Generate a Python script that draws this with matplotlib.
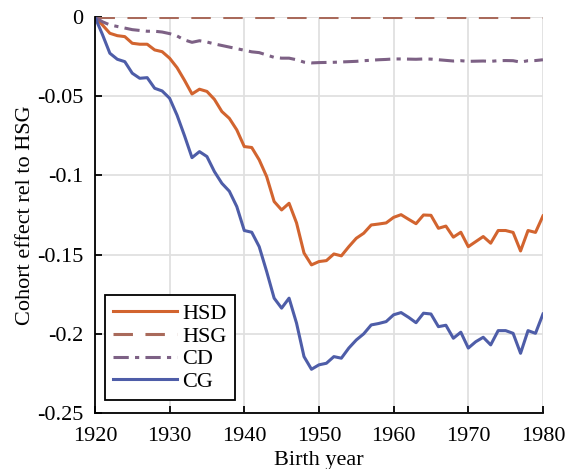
import numpy as np
import matplotlib
matplotlib.use('Agg')
import matplotlib.pyplot as plt

# Dati: effetti di coorte rispetto a HSG
years = np.arange(1920, 1981)

hsd = [0, -0.005, -0.0103, -0.0118, -0.0124, -0.0166, -0.0172, -0.0172, -0.0208, -0.0219,
       -0.026, -0.032, -0.040, -0.0486, -0.0456, -0.047, -0.052, -0.0597, -0.064, -0.0713,
       -0.0818, -0.0824, -0.0902, -0.1008, -0.1165, -0.1218, -0.1176, -0.130, -0.149, -0.1565,
       -0.1544, -0.1538, -0.1496, -0.1508, -0.145, -0.1397, -0.1365, -0.1313, -0.1307, -0.130,
       -0.1265, -0.1248, -0.1277, -0.1305, -0.125, -0.1252, -0.1334, -0.132, -0.139, -0.1359,
       -0.145, -0.1418, -0.1386, -0.1428, -0.1348, -0.1348, -0.136, -0.1477, -0.1348, -0.136,
       -0.1256]

hsg = [0.0] * len(years)

cd = [0, -0.003, -0.005, -0.006, -0.007, -0.008, -0.0085, -0.009, -0.009, -0.0095,
      -0.0105, -0.012, -0.0145, -0.016, -0.015, -0.0158, -0.017, -0.018, -0.019, -0.020,
      -0.021, -0.022, -0.0225, -0.024, -0.0255, -0.026, -0.026, -0.027, -0.0285, -0.029,
      -0.0288, -0.0287, -0.0286, -0.0284, -0.0282, -0.028, -0.0276, -0.0273, -0.027, -0.0268,
      -0.0265, -0.0265, -0.0266, -0.0267, -0.0265, -0.0266, -0.027, -0.0274, -0.0278, -0.0276,
      -0.028, -0.0279, -0.0278, -0.028, -0.0276, -0.0275, -0.0276, -0.0285, -0.0276, -0.0275,
      -0.027]

cg = [0, -0.011, -0.0229, -0.0267, -0.0282, -0.0355, -0.0387, -0.0383, -0.045, -0.0467,
      -0.0513, -0.062, -0.075, -0.0888, -0.085, -0.0881, -0.0976, -0.105, -0.110, -0.1197,
      -0.1348, -0.1359, -0.145, -0.1607, -0.1775, -0.1838, -0.1775, -0.1933, -0.2144, -0.2224,
      -0.2196, -0.2186, -0.2144, -0.2154, -0.209, -0.2039, -0.200, -0.1944, -0.1935, -0.1923,
      -0.188, -0.1866, -0.1896, -0.193, -0.187, -0.1875, -0.1955, -0.1946, -0.2028, -0.199,
      -0.209, -0.205, -0.2022, -0.207, -0.198, -0.198, -0.1997, -0.2123, -0.198, -0.1997,
      -0.1875]

xticks = [1920, 1930, 1940, 1950, 1960, 1970, 1980]
yticks = [0, -0.05, -0.1, -0.15, -0.2, -0.25]
ytick_labels = ['0', '-0.05', '-0.1', '-0.15', '-0.2', '-0.25']

matplotlib.rc('font', family='Liberation Serif', size=16)
matplotlib.rc('lines', scale_dashes=False)

fig = plt.figure(figsize=(5.65, 4.69), dpi=100)
ax = fig.add_axes([0.168, 0.1194, 0.793, 0.8444])

lw = 2.2
ax.plot(years, hsd, color='#D2642F', lw=lw, label='HSD')
ax.plot(years, hsg, color='#A96A5B', lw=lw, dashes=(14, 9), label='HSG')
ax.plot(years, cd, color='#7D6185', lw=lw, dashes=(11, 4.5, 3, 4.5), label='CD')
ax.plot(years, cg, color='#4E5DA8', lw=lw, label='CG')

ax.set_xlim(1920, 1980)
ax.set_ylim(-0.25, 0)
ax.set_xticks(xticks)
ax.set_yticks(yticks)
ax.set_yticklabels(ytick_labels)
ax.grid(True, color='#E0E0E0', lw=1.3)
ax.set_axisbelow(True)
ax.tick_params(direction='in', length=5, width=1.3)
ax.tick_params(axis='y', pad=8.5)
ax.tick_params(axis='x', pad=10)

ax.spines['right'].set_visible(False)
ax.spines['top'].set_visible(False)
ax.spines['left'].set_linewidth(1.3)
ax.spines['bottom'].set_linewidth(1.3)

ax.set_xlabel('Birth year', labelpad=4)
ax.set_ylabel('Cohort effect rel to HSG', labelpad=1)

leg = ax.legend(loc='lower left', bbox_to_anchor=(0.022, 0.033), borderaxespad=0,
                fancybox=False, framealpha=1, edgecolor='black',
                handlelength=2.9, handletextpad=0.25, labelspacing=0.1,
                borderpad=0.35)
leg.get_frame().set_linewidth(1.3)

fig.savefig('out.png', dpi=100)
